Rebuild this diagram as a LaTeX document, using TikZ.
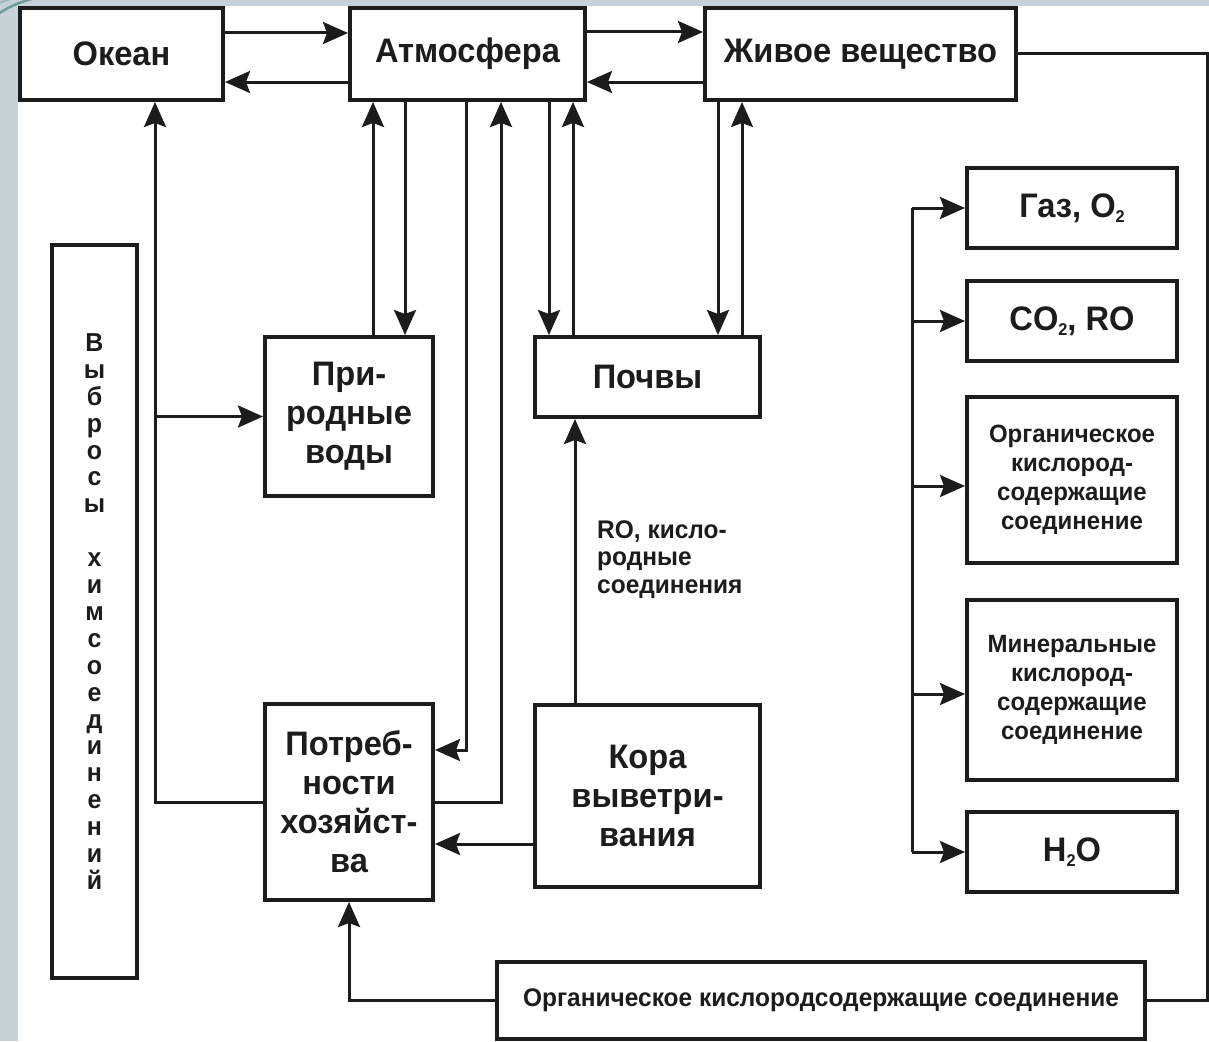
\documentclass[tikz,border=0pt]{standalone}
\usepackage{fontspec}
\setmainfont{Liberation Sans}[FakeStretch=0.96]
\usetikzlibrary{arrows.meta}
\definecolor{ink}{HTML}{1C1C1C}
\definecolor{slidebg}{HTML}{C7D1D8}
\definecolor{decoteal}{HTML}{6F9A9A}
\newcommand\lowsub[1]{\raisebox{-5pt}{\fontsize{17}{17}\selectfont #1}}
\begin{document}
\begin{tikzpicture}[x=1pt,y=-1pt,
  box/.style={draw=ink, line width=4pt, fill=white, inner sep=0pt, text=ink,
    font=\bfseries\fontsize{34}{39}\selectfont, align=center},
  smallbox/.style={box, font=\bfseries\fontsize{25}{29}\selectfont},
  widebox/.style={box, font=\bfseries\fontsize{25.5}{29}\selectfont},
  vbox/.style={box, font=\bfseries\fontsize{26}{26.9}\selectfont},
  lbl/.style={text=ink, inner sep=0pt, align=left, font=\bfseries\fontsize{25.5}{27.5}\selectfont},
  con/.style={draw=ink, line width=3pt},
  arr/.style={con, -{Stealth[length=25pt,width=22pt,inset=4pt]}},
]
\useasboundingbox (0,0) rectangle (1209,1041);
\clip (0,0) rectangle (1209,1041);
% slide background
\fill[slidebg] (0,0) rectangle (1209,1041);
\fill[white] (18,6) rectangle (1209,1041);
\draw[decoteal, line width=2.5pt] (-2,14) .. controls (10,6) and (22,1) .. (36,-2);
\draw[decoteal!70, line width=2pt] (-2,4) .. controls (3,1) and (8,0) .. (14,-2);

% helper coordinates
\coordinate (x155) at (155,0);
\coordinate (x373) at (373,0);
\coordinate (x405) at (405,0);
\coordinate (x466) at (466,0);
\coordinate (x501) at (501,0);
\coordinate (x549) at (549,0);
\coordinate (x573) at (573,0);
\coordinate (x575) at (575,0);
\coordinate (x718) at (718,0);
\coordinate (x742) at (742,0);
\coordinate (x912) at (912,0);
\coordinate (x1207) at (1207,0);
\coordinate (y750) at (0,750);
\coordinate (y844) at (0,844);
\coordinate (y488) at (0,486);
\coordinate (y694) at (0,694);

% nodes
\node[box, minimum width=203pt, minimum height=92pt] (okean) at (121.5,54) {Океан};
\node[box, minimum width=235pt, minimum height=92pt] (atm) at (467.5,54) {Атмосфера};
\node[box, minimum width=311pt, minimum height=92pt] (zhivoe) at (860.5,54) {Живое вещество};
\node[box, minimum width=168pt, minimum height=159pt] (prirod) at (349,416.5) {При-\\родные\\воды};
\node[box, minimum width=225pt, minimum height=80pt] (pochvy) at (647.5,377) {Почвы};
\node[box, minimum width=168pt, minimum height=196pt] (potreb) at (349,802) {Потреб-\\ности\\хозяйст-\\ва};
\node[box, minimum width=225pt, minimum height=182pt] (kora) at (647.5,796) {Кора\\выветри-\\вания};
\node[vbox, minimum width=85pt, minimum height=733pt] (vybrosy) at (94.5,611.5)
  {В\\ы\\б\\р\\о\\с\\ы\\[26.9pt]х\\и\\м\\с\\о\\е\\д\\и\\н\\е\\н\\и\\й};
\node[box, minimum width=210pt, minimum height=80pt] (gaz) at (1072,208) {Газ, O\lowsub{2}};
\node[box, minimum width=210pt, minimum height=80pt] (co2) at (1072,321) {CO\lowsub{2}, RO};
\node[smallbox, minimum width=210pt, minimum height=166pt] (orgr) at (1072,480) {Органическое\\кислород-\\содержащие\\соединение};
\node[smallbox, minimum width=210pt, minimum height=180pt] (miner) at (1072,690) {Минеральные\\кислород-\\содержащие\\соединение};
\node[box, minimum width=210pt, minimum height=80pt] (h2o) at (1072,852) {H\lowsub{2}O};
\node[widebox, minimum width=648pt, minimum height=77pt] (orgb) at (821,1000.5) {Органическое кислородсодержащие соединение};
\node[lbl, anchor=north west] (rolabel) at (597,520) {RO, кисло-\\родные\\соединения};

% top row exchanges
\draw[arr] ([yshift=21pt]okean.east) -- ([yshift=21pt]atm.west);
\draw[arr] ([yshift=-28pt]atm.west) -- ([yshift=-28pt]okean.east);
\draw[arr] ([yshift=22pt]atm.east) -- ([yshift=22pt]zhivoe.west);
\draw[arr] ([yshift=-28pt]zhivoe.west) -- ([yshift=-28pt]atm.east);

% atmosphere - natural waters
\draw[arr] (prirod.north -| x373) -- (atm.south -| x373);
\draw[arr] (atm.south -| x405) -- (prirod.north -| x405);
% atmosphere - economy
\draw[arr] (atm.south -| x466) |- (potreb.east |- y750);
\draw[arr] (potreb.east) -| (atm.south -| x501);
% atmosphere - soils
\draw[arr] (atm.south -| x549) -- (pochvy.north -| x549);
\draw[arr] (pochvy.north -| x573) -- (atm.south -| x573);
% living matter - soils
\draw[arr] (zhivoe.south -| x718) -- (pochvy.north -| x718);
\draw[arr] (pochvy.north -| x742) -- (zhivoe.south -| x742);
% weathering crust
\draw[arr] (kora.north -| x575) -- (pochvy.south -| x575);
\draw[arr] (kora.west |- y844) -- (potreb.east |- y844);
% economy - ocean, natural waters
\draw[arr] (potreb.west) -| (okean.south -| x155);
\draw[arr] (prirod.west -| x155) -- (prirod.west);
% living matter - bottom box
\draw[con] (zhivoe.east) -- (zhivoe.east -| x1207) |- (orgb.east);
\draw[arr] (orgb.west) -| (potreb.south);
% right bracket
\draw[con] (gaz.west -| x912) -- (h2o.west -| x912);
\draw[arr] (gaz.west -| x912) -- (gaz.west);
\draw[arr] (co2.west -| x912) -- (co2.west);
\draw[arr] (x912 |- y488) -- (orgr.west |- y488);
\draw[arr] (x912 |- y694) -- (miner.west |- y694);
\draw[arr] (h2o.west -| x912) -- (h2o.west);
\end{tikzpicture}
\end{document}
